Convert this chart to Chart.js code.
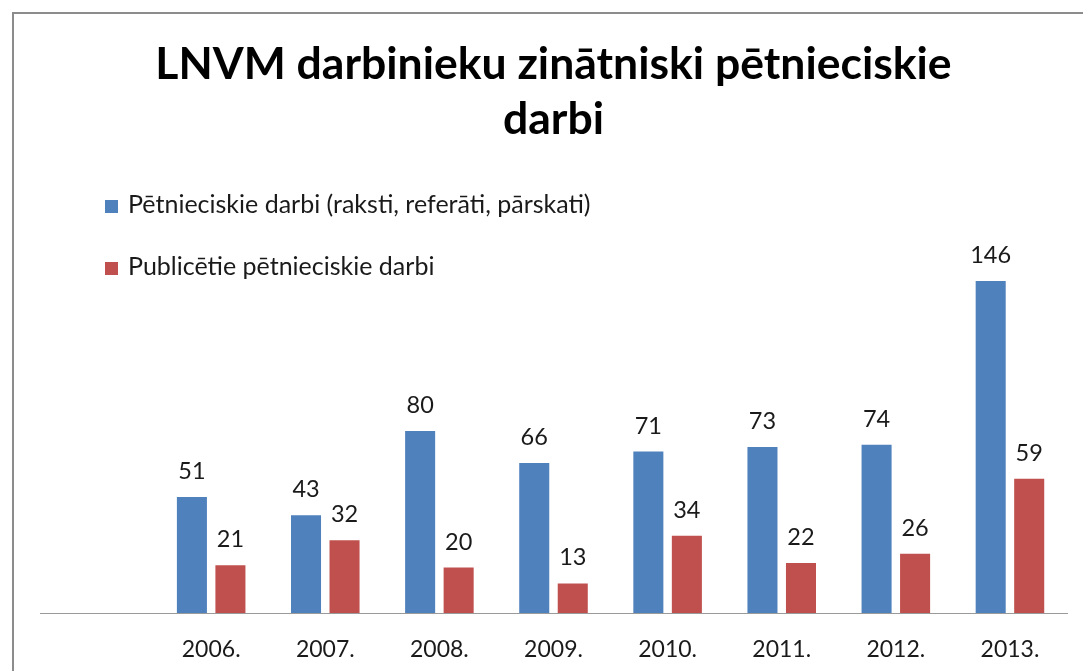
<!DOCTYPE html>
<html>
<head>
<meta charset="utf-8">
<script src="https://cdn.jsdelivr.net/npm/chart.js@4.4.1/dist/chart.umd.min.js"></script>
<style>
  html, body { margin: 0; padding: 0; background: #fff; overflow: hidden; }
  #wrap { position: relative; width: 1083px; height: 671px; }
  #frame { position: absolute; left: 12px; top: 12px; width: 1100px; height: 700px;
           border-left: 2px solid #8c8c8c; border-top: 2px solid #8c8c8c; pointer-events: none; }
  canvas { display: block; }
</style>
</head>
<body>
<div id="wrap">
  <canvas id="c" width="1083" height="671"></canvas>
  <div id="frame"></div>
</div>
<script>
const categories = ['', '2006.', '2007.', '2008.', '2009.', '2010.', '2011.', '2012.', '2013.'];
const researchWorks = [null, 51, 43, 80, 66, 71, 73, 74, 146];
const publishedWorks = [null, 21, 32, 20, 13, 34, 22, 26, 59];
const seriesNames = ['Pētnieciskie darbi (raksti, referāti, pārskati)', 'Publicētie pētnieciskie darbi'];
const titleLines = ['LNVM darbinieku zinātniski pētnieciskie', 'darbi'];

const FONT = 'Lato';
const TEXT = '#1a1a1a';

const valueLabels = {
  id: 'valueLabels',
  afterDatasetsDraw(chart) {
    const ctx = chart.ctx;
    ctx.save();
    ctx.font = '23.5px ' + FONT;
    ctx.fillStyle = TEXT;
    ctx.textAlign = 'center';
    ctx.textBaseline = 'alphabetic';
    chart.data.datasets.forEach((ds, di) => {
      chart.getDatasetMeta(di).data.forEach((bar, i) => {
        const v = ds.data[i];
        if (v == null) return;
        ctx.fillText(String(v), bar.x, bar.y - 18);
      });
    });
    ctx.restore();
  }
};

const sideLegend = {
  id: 'sideLegend',
  afterDraw(chart) {
    const ctx = chart.ctx;
    ctx.save();
    ctx.font = '25px ' + FONT;
    ctx.textBaseline = 'alphabetic';
    ctx.textAlign = 'left';
    chart.data.datasets.forEach((ds, di) => {
      const base = 213 + di * 62;
      ctx.fillStyle = ds.backgroundColor;
      ctx.fillRect(105, base - 13, 13, 13);
      ctx.fillStyle = TEXT;
      ctx.fillText(ds.label, 128, base);
    });
    ctx.restore();
  }
};

new Chart(document.getElementById('c'), {
  type: 'bar',
  data: {
    labels: categories,
    datasets: [
      { label: seriesNames[0], data: researchWorks, backgroundColor: '#4F81BD',
        categoryPercentage: 0.675, barPercentage: 0.78 },
      { label: seriesNames[1], data: publishedWorks, backgroundColor: '#C0504D',
        categoryPercentage: 0.675, barPercentage: 0.78 }
    ]
  },
  options: {
    responsive: false,
    animation: false,
    layout: { padding: { left: 40, right: 16, top: 0, bottom: 0 } },
    plugins: {
      legend: { display: false },
      tooltip: { enabled: false },
      title: {
        display: true,
        text: titleLines,
        color: '#000',
        font: { family: FONT, size: 44.5, weight: 'bold', lineHeight: 1.24 },
        padding: { top: 37, bottom: 10.8 }
      }
    },
    scales: {
      x: {
        grid: { display: false },
        border: { display: true, color: '#9a9a9a', width: 1 },
        ticks: { color: TEXT, font: { family: FONT, size: 23 }, padding: 15, maxRotation: 0, autoSkip: false },
        afterFit(scale) { scale.height = 58; }
      },
      y: { display: false, min: 0, max: 200 }
    }
  },
  plugins: [valueLabels, sideLegend]
});
</script>
</body>
</html>
